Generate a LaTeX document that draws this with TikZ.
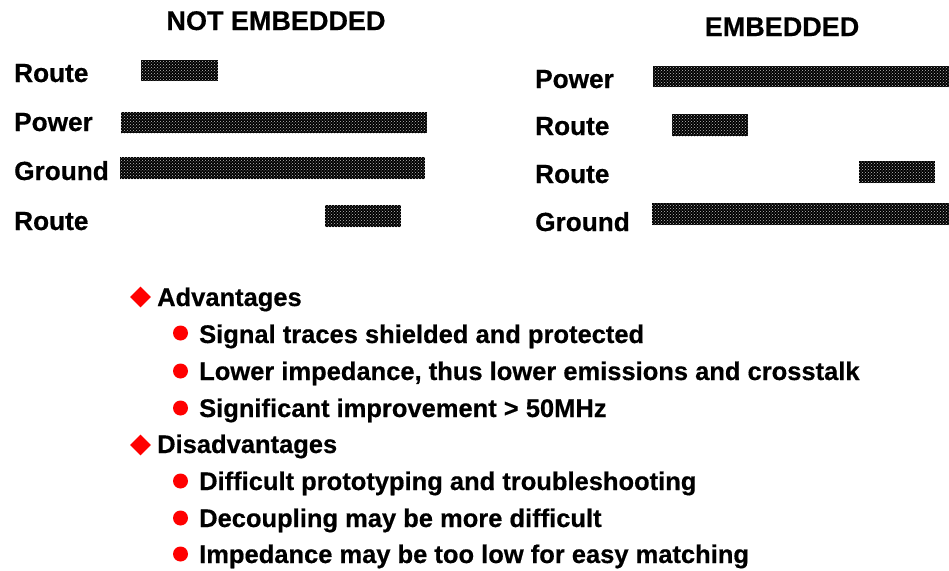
\documentclass[tikz,border=0pt]{standalone}
\usepackage{fontspec}
\setmainfont{Liberation Sans}[BoldFeatures={FakeBold=0.5}]
\usetikzlibrary{patterns,shapes.geometric}
\begin{document}
\begin{tikzpicture}[x=1pt,y=-1pt,
  lbl/.style={anchor=base west,inner sep=0pt,font=\fontsize{26.2}{30}\selectfont\bfseries},
  ttl/.style={anchor=base,inner sep=0pt,font=\fontsize{27}{30}\selectfont\bfseries},
  item/.style={anchor=base west,inner sep=0pt,font=\fontsize{25.5}{30}\selectfont\bfseries},
  layer/.style={fill=black,postaction={pattern=crosshatch dots,pattern color=white!75!black}},
  diam/.style={diamond,fill=red,inner sep=0pt,minimum width=21pt,minimum height=21pt},
  rdot/.style={circle,fill=red,inner sep=0pt,minimum size=15pt}]
\useasboundingbox (0,0) rectangle (949,570);
% titles
\node[ttl] (t1) at (276,30) {NOT EMBEDDED};
\node[ttl] (t2) at (782,36) {EMBEDDED};
% left stack
\node[lbl] (l1) at (14,82) {Route};
\node[lbl] (l2) at (14,131) {Power};
\node[lbl] (l3) at (14,180) {Ground};
\node[lbl] (l4) at (14,230) {Route};
\fill[layer] (141,60) rectangle (218,81);
\fill[layer] (121,112) rectangle (427,133);
\fill[layer] (120,157) rectangle (425,179);
\fill[layer] (325,205) rectangle (401,227);
% right stack
\node[lbl] (r1) at (535,88) {Power};
\node[lbl] (r2) at (535,135) {Route};
\node[lbl] (r3) at (535,183) {Route};
\node[lbl] (r4) at (535,231) {Ground};
\fill[layer] (653,66) rectangle (949,87);
\fill[layer] (672,114) rectangle (748,136);
\fill[layer] (859,161) rectangle (935,183);
\fill[layer] (652,203) rectangle (949,225);
% list
\node[diam] (d1) at (140.5,297) {};
\node[item] (a0) at (157,306) {Advantages};
\node[rdot] (b1) at (180.5,333) {};
\node[item] (a1) at (199,343) {Signal traces shielded and protected};
\node[rdot] (b2) at (180.5,371) {};
\node[item] (a2) at (199,380) {Lower impedance, thus lower emissions and crosstalk};
\node[rdot] (b3) at (180.5,408) {};
\node[item] (a3) at (199,417) {Significant improvement > 50MHz};
\node[diam] (d2) at (140.5,445) {};
\node[item] (c0) at (157,453) {Disadvantages};
\node[rdot] (b4) at (180.5,481) {};
\node[item] (c1) at (199,490) {Difficult prototyping and troubleshooting};
\node[rdot] (b5) at (180.5,518) {};
\node[item] (c2) at (199,527) {Decoupling may be more difficult};
\node[rdot] (b6) at (180.5,554) {};
\node[item] (c3) at (199,563) {Impedance may be too low for easy matching};
\end{tikzpicture}
\end{document}
